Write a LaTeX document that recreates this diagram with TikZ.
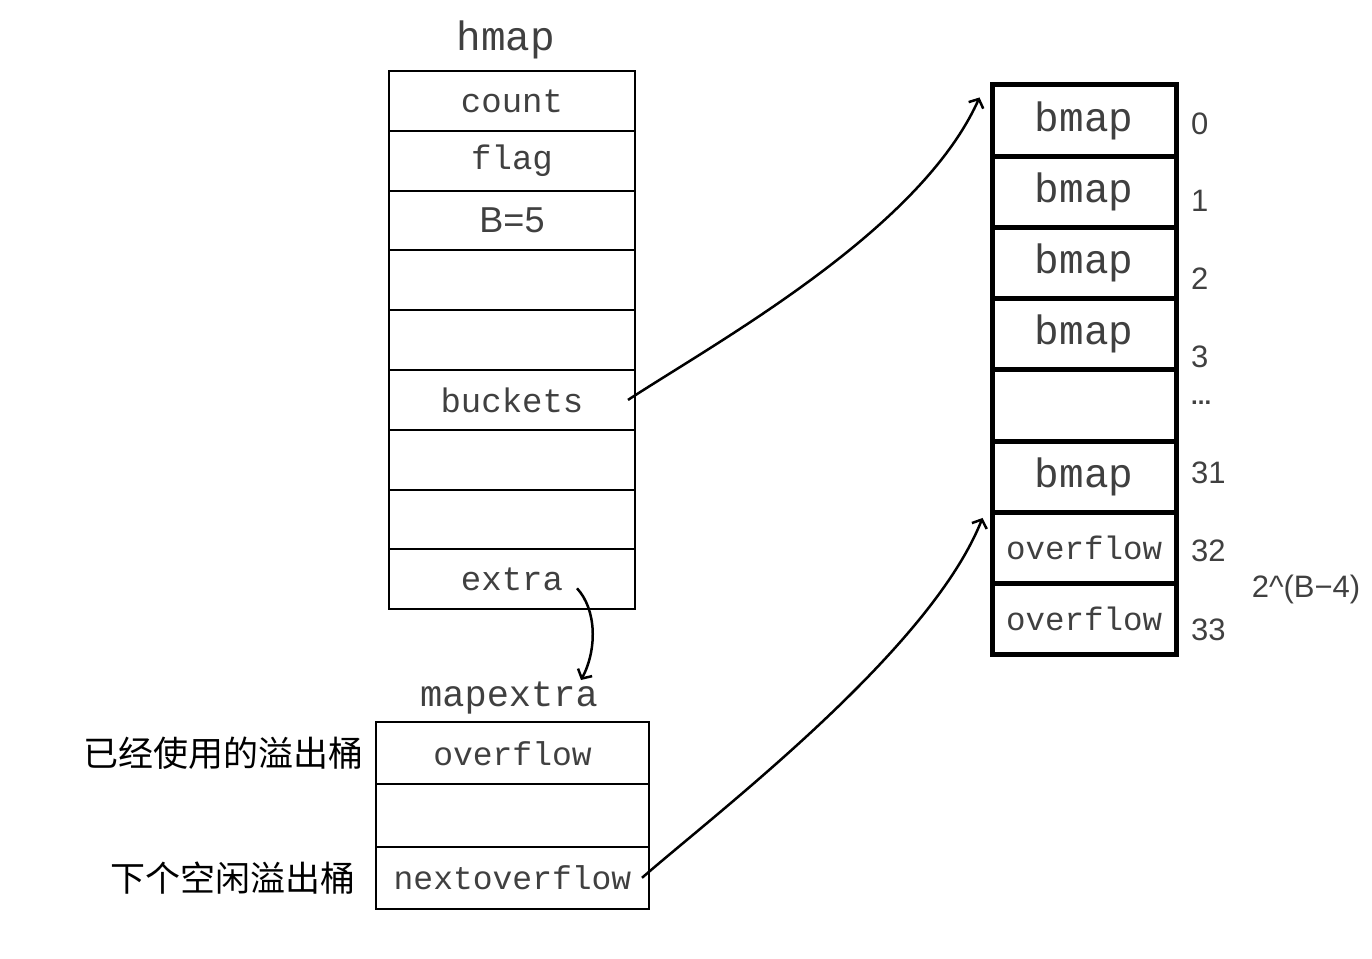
\documentclass[tikz,border=0pt]{standalone}
\usepackage{fontspec}
\setmonofont{Liberation Mono}
\setsansfont{Liberation Sans}
\newfontfamily\cjk{Noto Sans CJK SC}
\usetikzlibrary{arrows.meta}
\newcommand{\fsz}[1]{\fontsize{#1}{#1}\selectfont}
\tikzset{
  hcell/.style={draw, line width=2, minimum width=246, minimum height=59.8, inner sep=0, text=black!75, font=\fsz{34}\ttfamily},
  ecell/.style={hcell, minimum width=273, minimum height=62.3, font=\fsz{33}\ttfamily},
  bcell/.style={draw, line width=5, minimum width=184, minimum height=71.25, inner sep=0, text=black!75, font=\fsz{41}\ttfamily},
  idx/.style={anchor=west, inner sep=0, text=black!75, font=\fsz{31}\sffamily},
  ptr/.style={line width=2.5, -{Straight Barb[length=7pt,width=16pt]}},
}
\begin{document}
\begin{tikzpicture}[x=1pt,y=-1pt]
\useasboundingbox (0,0) rectangle (1372,958);

\node[text=black!75, font=\fsz{41}\ttfamily] (hmap) at (506,40) {hmap};
\foreach \t [count=\i from 0] in {count,flag,{\sffamily\fsz{36}B=5},{},{},buckets,{},{},extra}
  \node[hcell] (h\i) at (512,{100.9+59.8*\i}) {\t};

\node[text=black!75, font=\fsz{37}\ttfamily] (mx) at (509,698) {mapextra};
\foreach \t [count=\i from 0] in {overflow,{},nextoverflow}
  \node[ecell] (m\i) at (512.5,{753.2+62.3*\i}) {\t};

\foreach \t [count=\i from 0] in {bmap,bmap,bmap,bmap,{},bmap,{\fsz{32.5}overflow},{\fsz{32.5}overflow}}
  \node[bcell] (b\i) at (1084,{120.6+71.25*\i}) {\t};

\foreach \n/\y in {0/124,1/201,2/279,3/357,31/473,32/551,33/630}
  \node[idx] (n\n) at (1191,\y) {\n};
\node[idx, font=\fsz{24}\bfseries\sffamily] (dots) at (1191,403) {...};
\node[text=black!75, font=\fsz{31}\sffamily] (exp) at (1306,589) {2\textasciicircum(B−4)};

\node[anchor=east, font=\fsz{35}\cjk] (used) at ([xshift=-8]m0.west) {已经使用的溢出桶};
\node[anchor=east, font=\fsz{35}\cjk] (free) at ([xshift=-16]m2.west) {下个空闲溢出桶};

\draw[ptr] ([xshift=-8]h5.east) .. controls (720,340) and (920,230) .. ([shift={(-10,15)}]b0.north west);
\draw[ptr] ([xshift=-8]m2.east) .. controls (720,810) and (930,650) .. ([shift={(-7,8)}]b6.north west);
\draw[ptr] ([shift={(-59,9)}]h8.east) .. controls (597,610) and (597,650) .. ([shift={(72,-18)}]mx.center);

\end{tikzpicture}
\end{document}
